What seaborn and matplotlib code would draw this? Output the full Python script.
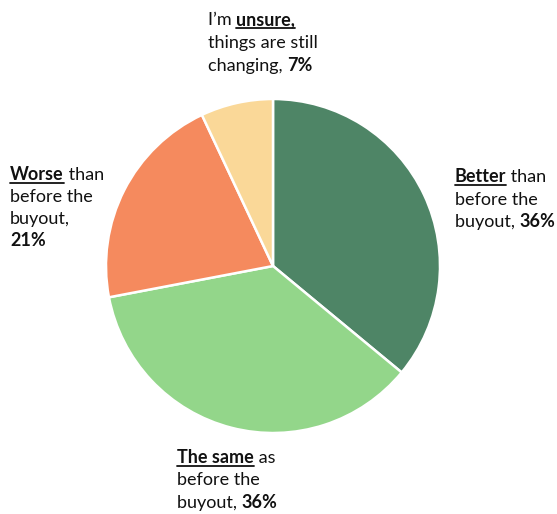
import matplotlib
matplotlib.use("Agg")
import matplotlib.pyplot as plt
import seaborn as sns

# slice data (clockwise from the top)
categories = ["Better", "The same", "Worse", "Unsure"]
shares = [36, 36, 21, 7]
colors = ["#4e8566", "#93d68a", "#f58a5e", "#fad898"]

# label text: each line is a list of (text, bold, underline) runs
label_better = [[("Better", True, True), (" than", False, False)],
                [("before the", False, False)],
                [("buyout, ", False, False), ("36%", True, False)]]
label_same = [[("The same", True, True), (" as", False, False)],
              [("before the", False, False)],
              [("buyout, ", False, False), ("36%", True, False)]]
label_worse = [[("Worse", True, True), (" than", False, False)],
               [("before the", False, False)],
               [("buyout,", False, False)],
               [("21%", True, False)]]
label_unsure = [[("I\u2019m ", False, False), ("unsure,", True, True)],
                [("things are still", False, False)],
                [("changing, ", False, False), ("7%", True, False)]]

sns.set_theme(style="white")
plt.rcParams["font.family"] = ["Lato", "DejaVu Sans"]

W, H = 557, 514
fig = plt.figure(figsize=(W / 100, H / 100), dpi=100)
fig.patch.set_facecolor("white")

# pie axes: centre (273, 265) px, radius 167 px
cx, cy, r, pad = 273, 266, 167, 4
ax = fig.add_axes([(cx - r - pad) / W, 1 - (cy + r + pad) / H,
                   2 * (r + pad) / W, 2 * (r + pad) / H])
ax.pie(shares, colors=colors, startangle=90, counterclock=False,
       wedgeprops=dict(edgecolor="white", linewidth=1.8))
lim = (r + pad) / r
ax.set_xlim(-lim, lim)
ax.set_ylim(-lim, lim)
ax.set_aspect("equal")
ax.axis("off")

renderer = fig.canvas.get_renderer()
FS = 13


def rich_label(x, baselines, lines):
    for yb, runs in zip(baselines, lines):
        px = x
        for text, bold, underline in runs:
            t = fig.text(px / W, 1 - yb / H, text, fontsize=FS,
                         fontweight="bold" if bold else "normal",
                         va="baseline", ha="left", color="#111111")
            bb = t.get_window_extent(renderer)
            if underline:
                fig.add_artist(plt.Line2D([bb.x0 / W, bb.x1 / W],
                                          [1 - (yb + 3) / H, 1 - (yb + 3) / H],
                                          transform=fig.transFigure,
                                          color="#111111", lw=1.3))
            px = bb.x1


rich_label(208, [25, 48, 71], label_unsure)
rich_label(10, [180, 202, 224, 246], label_worse)
rich_label(455, [182, 205, 227], label_better)
rich_label(177, [463, 485, 508], label_same)

fig.savefig("out.png", dpi=100, facecolor="white")
